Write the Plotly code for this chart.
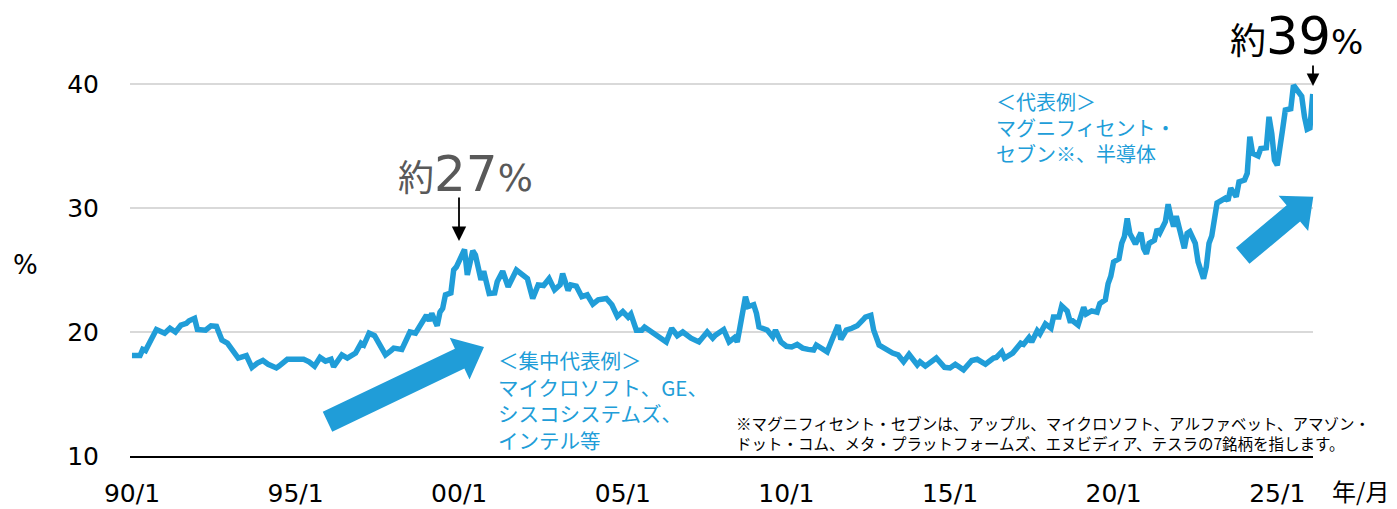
import math
import plotly.graph_objects as go

# ---- data ----
months = [
    "1990-01","1990-04","1990-05","1990-06","1990-08","1990-10","1991-01","1991-03","1991-05","1991-07",
    "1991-09","1991-10","1991-12","1992-01","1992-04","1992-06","1992-08","1992-10","1992-12","1993-02",
    "1993-04","1993-07","1993-09","1993-11","1994-01","1994-03","1994-06","1994-07","1994-10","1995-01",
    "1995-04","1995-06","1995-08","1995-10","1995-12","1996-02","1996-03","1996-06","1996-08","1996-11",
    "1997-01","1997-02","1997-04","1997-06","1997-08","1997-10","1997-12","1998-01","1998-04","1998-06",
    "1998-07","1998-09","1998-11","1999-01","1999-02","1999-03","1999-05","1999-06","1999-07","1999-08",
    "1999-10","1999-11","1999-12","2000-01","2000-03","2000-04","2000-06","2000-07","2000-09","2000-10",
    "2000-12","2001-02","2001-03","2001-05","2001-07","2001-10","2001-12","2002-02","2002-04","2002-06",
    "2002-08","2002-10","2002-12","2003-02","2003-03","2003-05","2003-06","2003-08","2003-10","2003-12",
    "2004-02","2004-04","2004-07","2004-09","2004-11","2005-01","2005-03","2005-04","2005-06","2005-08",
    "2005-09","2005-12","2006-02","2006-05","2006-07","2006-09","2006-11","2007-02","2007-05","2007-08",
    "2007-10","2007-11","2008-02","2008-04","2008-06","2008-07","2008-08","2008-10","2008-11","2009-01",
    "2009-02","2009-03","2009-06","2009-08","2009-09","2009-11","2010-01","2010-03","2010-05","2010-07",
    "2010-09","2010-11","2010-12","2011-02","2011-04","2011-06","2011-08","2011-09","2011-11","2012-01",
    "2012-03","2012-05","2012-06","2012-08","2012-09","2012-11","2013-02","2013-04","2013-06","2013-08",
    "2013-10","2014-01","2014-02","2014-04","2014-08","2014-11","2015-01","2015-03","2015-06","2015-09",
    "2015-11","2016-02","2016-05","2016-06","2016-08","2016-09","2016-12","2017-03","2017-04","2017-06",
    "2017-07","2017-09","2017-10","2017-12","2018-02","2018-03","2018-05","2018-06","2018-08","2018-09",
    "2018-10","2018-12","2019-02","2019-03","2019-05","2019-07","2019-08","2019-10","2019-11","2019-12",
    "2020-01","2020-03","2020-04","2020-05","2020-06","2020-07","2020-09","2020-11","2020-12","2021-01",
    "2021-02","2021-04","2021-05","2021-06","2021-08","2021-09","2021-10","2021-11","2021-12","2022-02",
    "2022-03","2022-04","2022-05","2022-07","2022-08","2022-10","2022-11","2022-12","2023-01","2023-03",
    "2023-04","2023-06","2023-07","2023-08","2023-10","2023-11","2024-01","2024-02","2024-03","2024-04",
    "2024-06","2024-07","2024-09","2024-10","2024-11","2024-12","2025-01","2025-02","2025-03","2025-04",
    "2025-06","2025-07","2025-08","2025-10","2025-11","2025-12","2026-01","2026-02",
]
share_pct = [
    18.1, 18.1, 18.6, 18.5, 19.35, 20.2, 19.9, 20.3, 20.0, 20.55,
    20.7, 20.9, 21.1, 20.2, 20.15, 20.5, 20.45, 19.35, 19.1, 18.55,
    17.9, 18.1, 17.15, 17.5, 17.7, 17.4, 17.1, 17.25, 17.8, 17.8,
    17.8, 17.6, 17.25, 17.95, 17.65, 17.8, 17.2, 18.15, 17.9, 18.3,
    19.1, 18.95, 19.9, 19.7, 18.95, 18.15, 18.5, 18.7, 18.6, 19.5,
    20.0, 19.9, 20.55, 21.35, 20.9, 21.5, 20.5, 21.6, 21.9, 23.0,
    23.15, 25.0, 25.25, 25.7, 26.65, 24.6, 26.55, 26.2, 24.2, 24.9,
    23.1, 23.15, 24.05, 24.9, 23.65, 25.0, 24.7, 24.3, 22.7, 23.8,
    23.75, 24.3, 23.4, 23.8, 24.7, 23.35, 23.8, 23.7, 22.85, 23.0,
    22.25, 22.6, 22.7, 22.2, 21.25, 21.65, 21.2, 21.45, 20.15, 20.15,
    20.4, 19.9, 19.55, 19.2, 20.3, 19.7, 20.0, 19.5, 19.2, 20.0,
    19.5, 19.75, 20.2, 19.2, 19.55, 19.2, 20.4, 22.85, 22.05, 22.2,
    21.5, 20.4, 20.15, 19.6, 20.15, 19.2, 18.85, 18.8, 19.0, 18.7,
    18.6, 18.55, 18.95, 18.7, 18.4, 19.5, 20.55, 19.4, 20.15, 20.3,
    20.5, 20.95, 21.2, 21.35, 20.15, 18.95, 18.5, 18.3, 18.15, 17.6,
    18.2, 17.35, 17.6, 17.25, 17.9, 17.15, 17.1, 17.4, 16.95, 17.7,
    17.8, 17.4, 17.9, 17.95, 18.4, 17.9, 18.3, 19.1, 19.0, 19.55,
    19.2, 20.1, 19.85, 20.65, 20.3, 21.2, 21.2, 22.1, 21.7, 20.9,
    20.9, 20.55, 22.0, 21.45, 21.7, 21.6, 22.3, 22.6, 23.9, 24.5,
    25.65, 25.9, 27.15, 27.7, 29.15, 27.95, 27.1, 28.0, 26.75, 26.3,
    27.15, 27.4, 28.3, 28.0, 28.9, 30.3, 29.3, 28.5, 29.35, 27.8,
    26.75, 27.95, 28.1, 27.15, 25.65, 24.3, 25.25, 27.15, 27.75, 30.4,
    30.5, 30.8, 30.6, 31.6, 30.9, 32.1, 32.25, 32.8, 35.75, 34.4,
    34.2, 34.8, 34.85, 37.35, 36.0, 33.85, 33.45, 35.35, 36.3, 37.9,
    38.0, 39.9, 39.65, 39.0, 37.35, 36.35, 36.45, 39.2,
]
tick_dates = ["1990-01-01", "1995-01-01", "2000-01-01", "2005-01-01",
              "2010-01-01", "2015-01-01", "2020-01-01", "2025-01-01"]
tick_labels = ["90/1", "95/1", "00/1", "05/1", "10/1", "15/1", "20/1", "25/1"]
y_ticks = [10, 20, 30, 40]

BLUE = "#209dd8"
JP = "Noto Sans CJK JP"
LAT = "DejaVu Sans"

# ---- layout geometry (pixels) ----
W, H = 1397, 509
L, R, T, B = 130, 84, 34, 53
PW, PH = W - L - R, H - T - B


def pxx(px):
    return (px - L) / PW


def pxy(py):
    return (H - B - py) / PH


def block_arrow(tail, tip, shaft_w, head_w, head_len):
    dx, dy = tip[0] - tail[0], tip[1] - tail[1]
    n = math.hypot(dx, dy)
    ux, uy = dx / n, dy / n
    nx, ny = -uy, ux
    neck = (tip[0] - ux * head_len, tip[1] - uy * head_len)
    pts = [
        (tail[0] + nx * shaft_w / 2, tail[1] + ny * shaft_w / 2),
        (neck[0] + nx * shaft_w / 2, neck[1] + ny * shaft_w / 2),
        (neck[0] + nx * head_w / 2, neck[1] + ny * head_w / 2),
        tip,
        (neck[0] - nx * head_w / 2, neck[1] - ny * head_w / 2),
        (neck[0] - nx * shaft_w / 2, neck[1] - ny * shaft_w / 2),
        (tail[0] - nx * shaft_w / 2, tail[1] - ny * shaft_w / 2),
    ]
    path = "M " + " L ".join(f"{pxx(x):.5f},{pxy(y):.5f}" for x, y in pts) + " Z"
    return dict(type="path", xref="paper", yref="paper", path=path,
                fillcolor=BLUE, line=dict(width=0), layer="above")


fig = go.Figure()
fig.add_trace(go.Scatter(x=months, y=share_pct, mode="lines",
                         line=dict(color=BLUE, width=5.5), hoverinfo="skip"))

fig.update_layout(
    width=W, height=H,
    margin=dict(l=L, r=R, t=T, b=B, autoexpand=False),
    plot_bgcolor="white", paper_bgcolor="white",
    showlegend=False,
    xaxis=dict(type="date", range=["1989-12-10", "2026-02-04"],
               tickvals=tick_dates, ticktext=tick_labels,
               showgrid=False, zeroline=False, showline=True,
               linecolor="black", linewidth=2, ticks="", automargin=False,
               tickfont=dict(family=LAT, size=25, color="black"),
               ticklabelstandoff=14),
    yaxis=dict(range=[10, 10 + PH / 12.4], tickvals=y_ticks,
               showgrid=True, gridcolor="#d9d9d9", gridwidth=2,
               zeroline=False, showline=False, ticks="", automargin=False,
               tickfont=dict(family=LAT, size=25, color="black"),
               ticklabelstandoff=30),
)

shapes = [
    block_arrow((327.5, 421.7), (484, 347), 22, 46, 27),
    block_arrow((1242.7, 255.8), (1313.3, 196.7), 21, 46, 26),
]
fig.update_layout(shapes=shapes)

ann = []
ann.append(dict(text="%", x=pxx(26), y=pxy(265), xref="paper", yref="paper",
                showarrow=False, xanchor="center", yanchor="middle",
                font=dict(family=LAT, size=26, color="black")))
ann.append(dict(text="年/月", x=pxx(1361), y=pxy(490), xref="paper", yref="paper",
                showarrow=False, xanchor="center", yanchor="middle",
                font=dict(family=JP, size=24, color="black")))
ann.append(dict(text="約<span style='font-family:DejaVu Sans;font-size:50px'>27</span>"
                     "<span style='font-family:DejaVu Sans;font-size:37px'>%</span>",
                x=pxx(396), y=pxy(174), xref="paper", yref="paper",
                showarrow=False, xanchor="left", yanchor="middle",
                font=dict(family=JP, size=36, color="#595959")))
ann.append(dict(text="", x=pxx(459), y=pxy(241), xref="paper", yref="paper",
                showarrow=True, ax=0, ay=-45, arrowhead=2, arrowsize=1.6,
                arrowwidth=1.8, arrowcolor="black"))
ann.append(dict(text="約<span style='font-family:DejaVu Sans;font-size:51px'>39</span>"
                     "<span style='font-family:DejaVu Sans;font-size:34px'>%</span>",
                x=pxx(1228), y=pxy(36), xref="paper", yref="paper",
                showarrow=False, xanchor="left", yanchor="middle",
                font=dict(family=JP, size=36, color="black")))
ann.append(dict(text="", x=pxx(1313), y=pxy(86), xref="paper", yref="paper",
                showarrow=True, ax=0, ay=-22, arrowhead=2, arrowsize=1.4,
                arrowwidth=1.8, arrowcolor="black"))
ann.append(dict(text="＜集中代表例＞<br>マイクロソフト、GE、<br>シスコシステムズ、<br>インテル等",
                x=pxx(496), y=pxy(343), xref="paper", yref="paper",
                showarrow=False, xanchor="left", yanchor="top", align="left",
                font=dict(family=JP, size=20.5, color=BLUE)))
ann.append(dict(text="＜代表例＞<br>マグニフィセント・<br>セブン※、半導体",
                x=pxx(994), y=pxy(85), xref="paper", yref="paper",
                showarrow=False, xanchor="left", yanchor="top", align="left",
                font=dict(family=JP, size=20, color=BLUE)))
ann.append(dict(text="※マグニフィセント・セブンは、アップル、マイクロソフト、アルファベット、アマゾン・<br>"
                     "ドット・コム、メタ・プラットフォームズ、エヌビディア、テスラの7銘柄を指します。",
                x=pxx(734), y=pxy(410), xref="paper", yref="paper",
                showarrow=False, xanchor="left", yanchor="top", align="left",
                font=dict(family=JP, size=15.5, color="black")))
fig.update_layout(annotations=ann)

fig.write_html("out.html", config={"displayModeBar": False},
               post_script="document.body.style.margin='0';")
